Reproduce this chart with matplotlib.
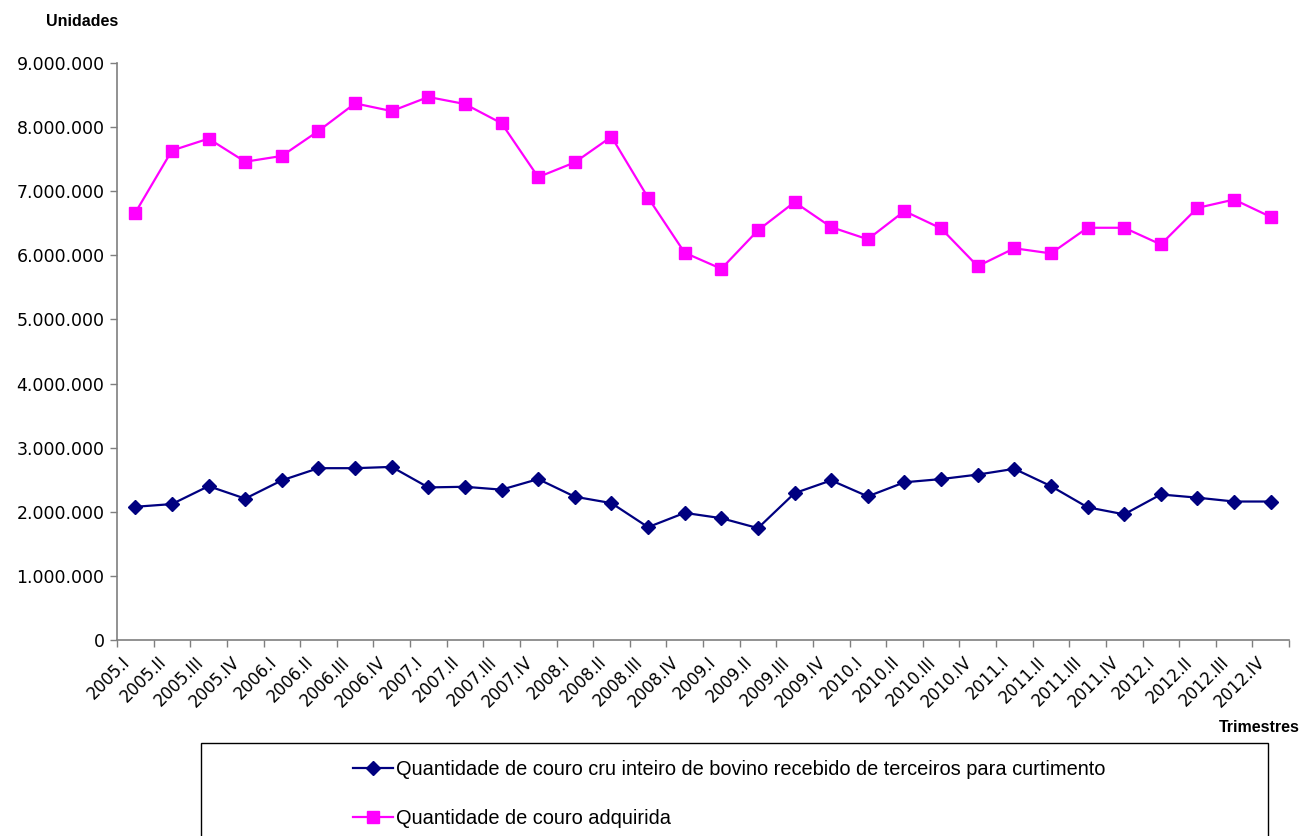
import matplotlib
matplotlib.use("Agg")
import matplotlib.pyplot as plt
from matplotlib.ticker import FuncFormatter, FixedLocator
from matplotlib.patches import Rectangle
from matplotlib.lines import Line2D
from matplotlib.transforms import ScaledTranslation

# quarters 2005.I .. 2012.IV
years = [2005, 2006, 2007, 2008, 2009, 2010, 2011, 2012]
roman = ["I", "II", "III", "IV"]
quarters = [f"{y}.{r}" for y in years for r in roman]

# couro cru inteiro de bovino recebido de terceiros (unidades)
recebido = [2078000, 2120000, 2400000, 2205000, 2490000, 2680000, 2680000, 2700000,
            2380000, 2390000, 2345000, 2510000, 2235000, 2135000, 1760000, 1983000,
            1900000, 1745000, 2290000, 2490000, 2240000, 2460000, 2510000, 2580000,
            2670000, 2400000, 2070000, 1960000, 2270000, 2220000, 2160000, 2160000]

# couro adquirido (unidades)
adquirida = [6665000, 7635000, 7820000, 7460000, 7550000, 7940000, 8370000, 8250000,
             8470000, 8360000, 8060000, 7220000, 7450000, 7850000, 6900000, 6040000,
             5790000, 6390000, 6830000, 6440000, 6250000, 6690000, 6420000, 5830000,
             6110000, 6030000, 6430000, 6430000, 6170000, 6740000, 6870000, 6600000]

label_recebido = "Quantidade de couro cru inteiro de bovino recebido de terceiros para curtimento"
label_adquirida = "Quantidade de couro adquirida"

navy = "#000080"
magenta = "#FF00FF"
axis_grey = "#7f7f7f"

W, H = 1303, 836
fig = plt.figure(figsize=(W / 100, H / 100), dpi=100)
ax = fig.add_axes([117 / W, 1 - 640 / H, (1289 - 117) / W, (640 - 63) / H])

x = list(range(len(quarters)))
ax.plot(x, recebido, color=navy, lw=1.6, marker="D", ms=7, mec=navy, mfc=navy, zorder=3)
ax.plot(x, adquirida, color=magenta, lw=1.6, marker="s", ms=9, mec=magenta, mfc=magenta, zorder=3)

ax.set_xlim(-0.5, len(quarters) - 0.5)
ax.set_ylim(0, 9000000)
ax.set_yticks(range(0, 9000001, 1000000))
ax.yaxis.set_major_formatter(FuncFormatter(lambda v, p: f"{int(v):,}".replace(",", ".")))

# ticks between categories, labels at the category centres
ax.xaxis.set_major_locator(FixedLocator([i - 0.5 for i in range(len(quarters) + 1)]))
ax.xaxis.set_major_formatter(FuncFormatter(lambda v, p: ""))
ax.set_xticks(x, minor=True)
ax.set_xticklabels(quarters, minor=True, rotation=45, ha="right", va="center",
                   rotation_mode="anchor", fontsize=12, family="DejaVu Sans")
ax.tick_params(axis="x", which="minor", length=0, pad=14)
ax.tick_params(axis="x", which="major", length=5, width=1, color=axis_grey, direction="out")
ax.tick_params(axis="y", length=5, width=1, color=axis_grey, direction="out",
               labelsize=12.5, pad=4)
for t in ax.get_yticklabels():
    t.set_family("DejaVu Sans")
shift = ScaledTranslation(-0.08, 0, fig.dpi_scale_trans)
for t in ax.get_xticklabels(minor=True):
    t.set_transform(t.get_transform() + shift)

for side in ["top", "right"]:
    ax.spines[side].set_visible(False)
for side in ["left", "bottom"]:
    ax.spines[side].set_color(axis_grey)
    ax.spines[side].set_linewidth(1.2)

fig.text(46 / W, 1 - 22 / H, "Unidades", fontsize=11.5, fontweight="bold",
         family="Liberation Sans", ha="left", va="center")
fig.text(1300 / W, 1 - 727 / H, "Trimestres", fontsize=11.5, fontweight="bold",
         family="Liberation Sans", ha="right", va="center")

# legend box running off the bottom edge
fig.patches.append(Rectangle((201 / W, -0.05), (1268 - 201) / W, 0.05 + (836 - 743) / H,
                             transform=fig.transFigure, fill=False, ec="black", lw=1))
handles = [Line2D([], [], color=navy, lw=1.6, marker="D", ms=7),
           Line2D([], [], color=magenta, lw=1.6, marker="s", ms=9)]
fig.legend(handles, [label_recebido, label_adquirida], loc="upper left",
           bbox_to_anchor=(335 / W, 1 - 742 / H), frameon=False, handlelength=2.0,
           handletextpad=0.15, labelspacing=1.5,
           prop={"family": "Liberation Sans", "size": 14.4})

fig.savefig("out.png", dpi=100)
